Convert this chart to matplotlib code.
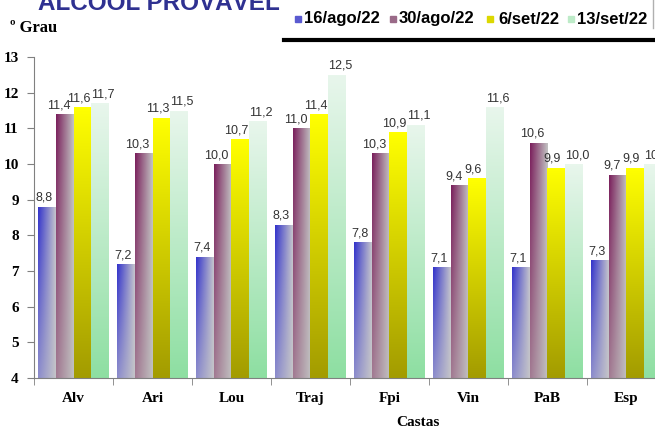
import numpy as np
import matplotlib
matplotlib.use("Agg")
import matplotlib.pyplot as plt
from matplotlib.colors import to_rgb
from matplotlib.lines import Line2D
from matplotlib.patches import Rectangle

castas = ["Alv", "Ari", "Lou", "Traj", "Fpi", "Vin", "PaB", "Esp"]
datas = ["16/ago/22", "30/ago/22", "6/set/22", "13/set/22"]
v_16ago = [8.8, 7.2, 7.4, 8.3, 7.8, 7.1, 7.1, 7.3]
v_30ago = [11.4, 10.3, 10.0, 11.0, 10.3, 9.4, 10.6, 9.7]
v_6set = [11.6, 11.3, 10.7, 11.4, 10.9, 9.6, 9.9, 9.9]
v_13set = [11.7, 11.5, 11.2, 12.5, 11.1, 11.6, 10.0, 10.0]
series = [v_16ago, v_30ago, v_6set, v_13set]

# gradient corners: (top-left, bottom-left, top-right, bottom-right)
grads = [
    ("#3333cc", "#8c8ccc", "#c4c4cc", "#c4c4c8"),
    ("#7a1f5c", "#a27a92", "#c2c2c2", "#c0c0c0"),
    ("#ffff00", "#a39c00", "#ffff00", "#a39c00"),
    ("#e8f6ec", "#8edfa2", "#e8f6ec", "#8edfa2"),
]
legend_cols = ["#5a5ad0", "#9a6a88", "#dcd800", "#bdebc8"]
# label shift (px) used by the reference to keep labels apart
lab_dx = [-3, -6, -4, 3]


def grad_img(c, ny=64, nx=32):
    tl, bl, tr, br = [np.array(to_rgb(k)) for k in c]
    ty = np.linspace(0, 1, ny)[:, None, None]
    tx = np.linspace(0, 1, nx)[None, :, None]
    left = tl * (1 - ty) + bl * ty
    right = tr * (1 - ty) + br * ty
    return left * (1 - tx) + right * tx


W, H = 655, 428
fig = plt.figure(figsize=(W / 100, H / 100), dpi=100)
ax = fig.add_axes([34 / W, 50 / H, 632 / W, 321 / H])

x = np.arange(len(castas))
w = 0.224
px = 1 / 79  # one pixel in data units along x
for k, vals in enumerate(series):
    pos = x + (k - 1.5) * w
    bars = ax.bar(pos, vals, w, color="none", edgecolor="none")
    img = grad_img(grads[k])
    for b, v in zip(bars, vals):
        x0 = b.get_x()
        im = ax.imshow(img, extent=[x0, x0 + w, 4, v], aspect="auto",
                       interpolation="bilinear", zorder=2)
        im.set_clip_path(b)
        ax.text(x0 + w / 2 + lab_dx[k] * px, v + 0.08,
                f"{v:.1f}".replace(".", ","),
                ha="center", va="bottom", fontsize=9,
                family="Liberation Sans", color="#333333", zorder=3,
                clip_on=False)

ax.set_xlim(-0.5, len(castas) - 0.5)
ax.set_ylim(4, 13)
ax.set_yticks(range(4, 14))
ax.set_xticks(x)
ax.set_xticklabels(castas)
ax.set_xticks(np.arange(-0.5, len(castas)), minor=True)
ax.tick_params(axis="x", which="major", length=0, pad=10)
ax.tick_params(axis="x", which="minor", length=5, color="#808080")
ax.tick_params(axis="y", length=5, color="#808080", pad=6)
for lab in ax.get_xticklabels() + ax.get_yticklabels():
    lab.set_family("Liberation Serif")
    lab.set_fontweight("bold")
    lab.set_fontsize(11)
for s in ["top", "right"]:
    ax.spines[s].set_visible(False)
for s in ["left", "bottom"]:
    ax.spines[s].set_color("#808080")

fig.text(418 / W, 1 - 422 / H, "Castas", ha="center", va="center",
         family="Liberation Serif", fontweight="bold", fontsize=11)
fig.text(10 / W, 1 - 28 / H, "º Grau", ha="left", va="center",
         family="Liberation Serif", fontweight="bold", fontsize=12)
fig.text(159 / W, 1 - 10 / H, "ÁLCOOL PROVÁVEL", ha="center",
         va="baseline", fontsize=17.5, fontweight="bold", color="#2f3191",
         family="Liberation Sans")

# legend drawn by hand to match the reference spacing
mark_x = [295, 390, 487, 568]
text_x = [304, 399, 498, 577]
for mx, tx, c, lab in zip(mark_x, text_x, legend_cols, datas):
    fig.add_artist(Rectangle((mx / W, 1 - 22 / H), 6 / W, 6 / H,
                             transform=fig.transFigure, color=c))
    fig.text(tx / W, 1 - 19 / H, lab, ha="left", va="center",
             family="Liberation Sans", fontweight="bold", fontsize=12)
fig.add_artist(Line2D([284 / W, 1], [1 - 40 / H] * 2, color="black",
                      lw=3, transform=fig.transFigure))
fig.add_artist(Line2D([653 / W] * 2, [1 - 28 / H, 1], color="#b0b0b0",
                      lw=1, transform=fig.transFigure))

fig.savefig("out.png", dpi=100)
